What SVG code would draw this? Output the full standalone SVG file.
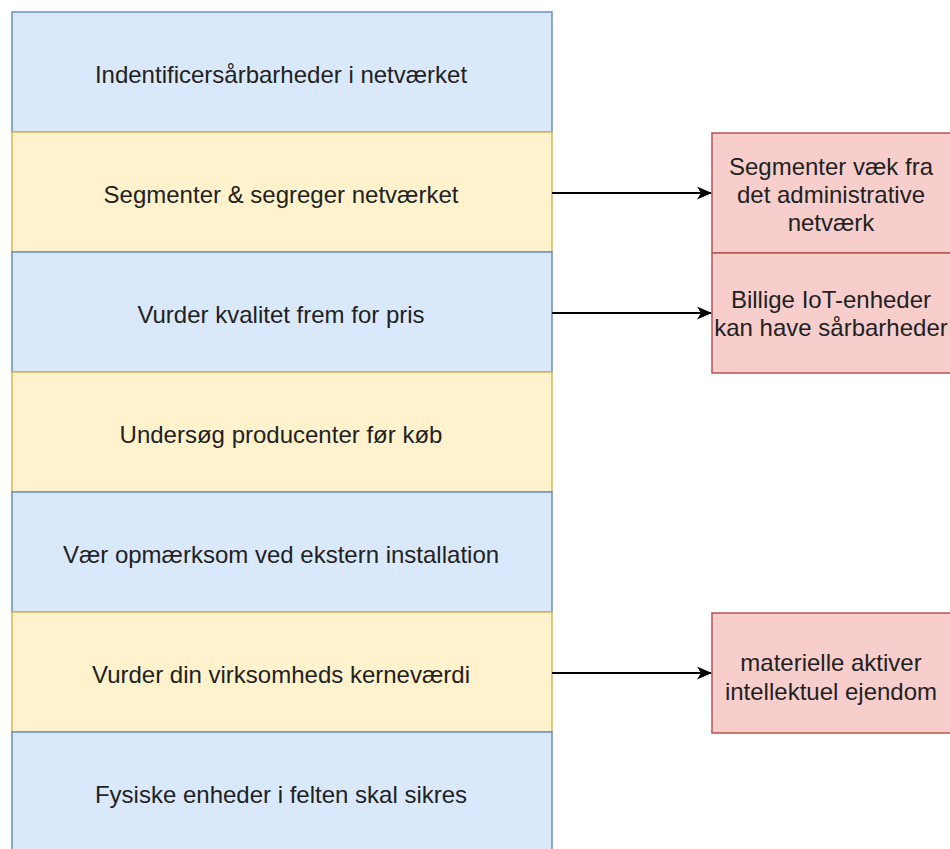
<svg xmlns="http://www.w3.org/2000/svg" width="950" height="849" viewBox="0 0 950 849">
<style>
.blue{fill:#dae8fc;stroke:#6c8ebf;stroke-width:1.5}
.yellow{fill:#fff2cc;stroke:#d6b656;stroke-width:1.5}
.red{fill:#f8cecc;stroke:#b85450;stroke-width:1.5}
text{font-family:"Liberation Sans",Arial,sans-serif;font-size:24px;fill:#222;text-anchor:middle}
.edge{stroke:#000;stroke-width:2;fill:none}
</style>
<defs>
<marker id="arr" viewBox="0 0 15 13" refX="14" refY="6.5" markerWidth="15" markerHeight="13" markerUnits="userSpaceOnUse" orient="auto">
<path d="M0,0 L15,6.5 L0,13 L4,6.5 Z" fill="#000"/>
</marker>
</defs>
<rect width="950" height="849" fill="#fff"/>
<g id="n1"><rect class="blue" x="12" y="12" width="540" height="120"/><text x="281" y="83">Indentificersårbarheder i netværket</text></g>
<g id="n2"><rect class="yellow" x="12" y="132" width="540" height="120"/><text x="281" y="203">Segmenter &amp; segreger netværket</text></g>
<g id="n3"><rect class="blue" x="12" y="252" width="540" height="120"/><text x="281" y="323">Vurder kvalitet frem for pris</text></g>
<g id="n4"><rect class="yellow" x="12" y="372" width="540" height="120"/><text x="281" y="443">Undersøg producenter før køb</text></g>
<g id="n5"><rect class="blue" x="12" y="492" width="540" height="120"/><text x="281" y="563">Vær opmærksom ved ekstern installation</text></g>
<g id="n6"><rect class="yellow" x="12" y="612" width="540" height="120"/><text x="281" y="683">Vurder din virksomheds kerneværdi</text></g>
<g id="n7"><rect class="blue" x="12" y="732" width="540" height="120"/><text x="281" y="803">Fysiske enheder i felten skal sikres</text></g>
<g id="r1"><rect class="red" x="712" y="133" width="240" height="120"/><text x="831"><tspan x="831" y="175">Segmenter væk fra</tspan><tspan x="831" y="203">det administrative</tspan><tspan x="831" y="231">netværk</tspan></text></g>
<g id="r2"><rect class="red" x="712" y="253" width="240" height="120"/><text x="831"><tspan x="831" y="308">Billige IoT-enheder</tspan><tspan x="831" y="336">kan have sårbarheder</tspan></text></g>
<g id="r3"><rect class="red" x="712" y="613" width="240" height="120"/><text x="831"><tspan x="831" y="671">materielle aktiver</tspan><tspan x="831" y="700">intellektuel ejendom</tspan></text></g>
<g id="edges">
<path class="edge" d="M552,193 L711,193" marker-end="url(#arr)"/>
<path class="edge" d="M552,313 L711,313" marker-end="url(#arr)"/>
<path class="edge" d="M552,673 L711,673" marker-end="url(#arr)"/>
</g>
</svg>
